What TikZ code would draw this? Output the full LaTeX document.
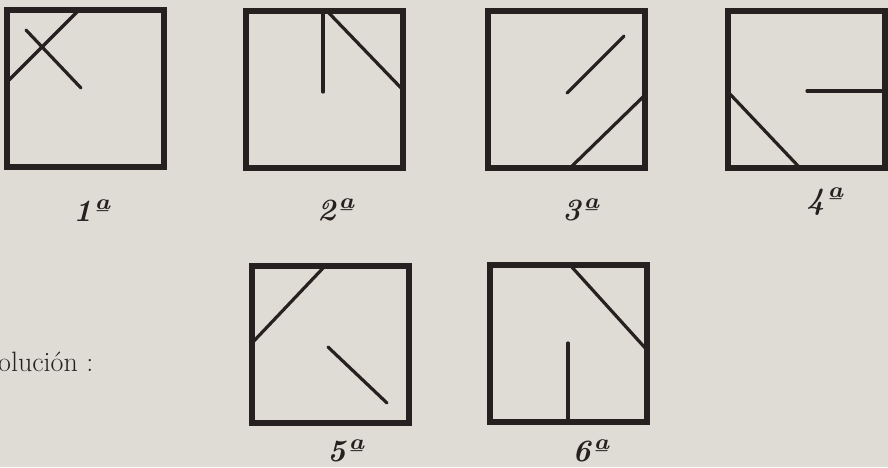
\documentclass[tikz,border=0pt]{standalone}
\usepackage{tikz}
\usetikzlibrary{positioning}

\definecolor{paper}{RGB}{222,220,213}
\definecolor{ink}{RGB}{38,33,32}

\tikzset{
  frame/.style={draw=ink, line width=5.4pt, line cap=rect},
  stroke/.style={draw=ink, line width=3.2pt, line cap=round},
  ordinal/.style={text=ink, font=\fontsize{31}{31}\selectfont\bfseries\itshape},
}

\begin{document}
\begin{tikzpicture}[x=1pt, y=-1pt]

% --- PAPER ---
\fill[paper] (0,0) rectangle (888,467);
\useasboundingbox (0,0) rectangle (888,467);

% --- PARAMETERS ---
\def\side{157} % side of each square

% --- SQUARES ---
\foreach \x/\y in {7/10, 246/11, 488/11, 728/11, 252/266, 490/265} {
  \draw[frame] (\x,\y) rectangle ++(\side,\side);
}

% --- STROKES INSIDE ---
% 1st
\draw[stroke] (9,80) -- (78,11);
\draw[stroke] (26,30) -- (81,88);
% 2nd
\draw[stroke] (323,11) -- (323,92);
\draw[stroke] (327,11) -- (403,90);
% 3rd
\draw[stroke] (567,93) -- (624,36);
\draw[stroke] (570,168) -- (645,95);
% 4th
\draw[stroke] (807,91) -- (885,91);
\draw[stroke] (729,93) -- (800,168);
% 5th
\draw[stroke] (252,343) -- (325,266);
\draw[stroke] (328,347) -- (387,403);
% 6th
\draw[stroke] (570,265) -- (647,350);
\draw[stroke] (568,343) -- (568,422);

% --- LABELS ---
\node[ordinal] (first)  at (91,211)  {1ª};
\node[ordinal] (second) at (335,210) {2ª};
\node[ordinal] (third)  at (580,210) {3ª};
\node[ordinal] (fourth) at (824,202) {4ª};
\node[ordinal] (fifth)  at (345,451) {5ª};
\node[ordinal] (sixth)  at (590,451) {6ª};

\node[text=ink, anchor=base west, inner sep=0pt,
      font=\fontsize{28}{28}\selectfont] (sol) at (-2,371) {olución :};

\end{tikzpicture}
\end{document}
